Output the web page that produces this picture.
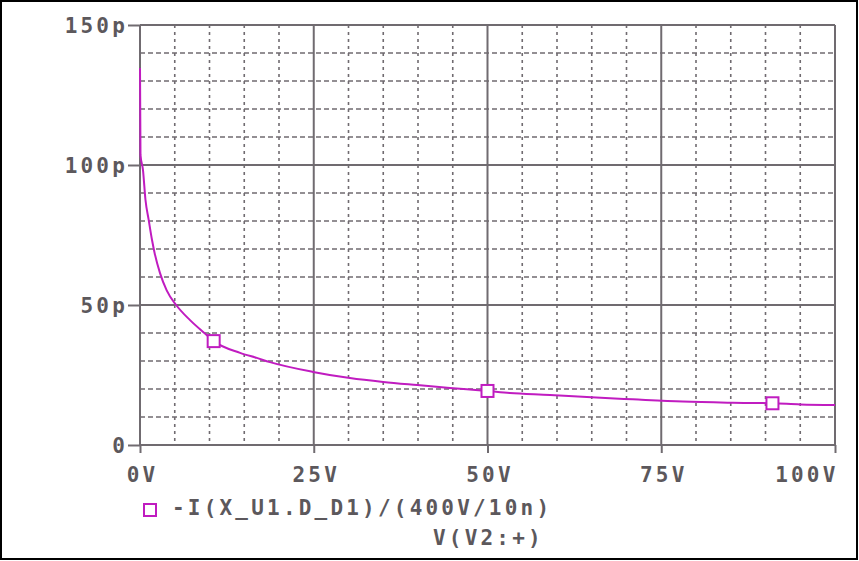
<!DOCTYPE html>
<html>
  <head>
    <title>Diode capacitance vs reverse voltage</title>
    <style>
      html,
      body {
        margin: 0;
        padding: 0;
        background: #fff;
      }

      #viz {
        width: 859px;
        height: 561px;
      }

      text {
        font-family: "DejaVu Sans Mono", monospace;
        font-weight: bold;
        font-size: 21px;
        letter-spacing: 3.2px;
        fill: #5c585c;
      }
    </style>
  </head>
  <body>
    <div id="viz"></div>
    <script src="https://d3js.org/d3.v7.min.js"></script>

    <script>
      // sweep voltage (V) and the plotted value (p)
      const volts = [
        0, 0.07, 0.43, 0.79, 1.25, 1.73, 2.1, 2.88, 3.84, 5.2, 7.2, 9.35, 10.6,
        14.4, 16.8, 18.7, 24.9, 30.2, 35, 39.9, 44.6, 50, 53.2, 59, 64.3, 70.9,
        78.1, 85.3, 91, 95, 100,
      ];
      const caps = [
        134.6, 103.6, 98.2, 87.5, 80.4, 73.2, 68.6, 61.4, 55.2, 50.0, 44.6, 39.8,
        37.1, 32.9, 31.1, 29.6, 26.1, 23.9, 22.5, 21.4, 20.4, 19.3, 18.6, 17.9,
        17.1, 16.3, 15.5, 15.1, 14.9, 14.5, 14.3,
      ];
      const markerVolts = [10.6, 50, 91];

      const xTicks = [0, 25, 50, 75, 100];
      const xTickLabels = ["0V", "25V", "50V", "75V", "100V"];
      const yTicks = [0, 50, 100, 150];
      const yTickLabels = ["0", "50p", "100p", "150p"];
      const xMinor = d3.range(5, 100, 5).filter((v) => v % 25 !== 0);
      const yMinor = d3.range(10, 150, 10).filter((v) => v % 50 !== 0);

      const traceName = "-I(X_U1.D_D1)/(400V/10n)";
      const xAxisName = "V(V2:+)";

      const traceColor = "#c01cc0";
      const gridColor = "#706b70";

      const points = volts.map((v, i) => ({ v: v, c: caps[i] }));

      const plotLeft = 140,
        plotRight = 835,
        plotTop = 25,
        plotBottom = 445;

      const xScale = d3
        .scaleLinear()
        .domain([0, 100])
        .range([plotLeft, plotRight]);
      const yScale = d3
        .scaleLinear()
        .domain([0, 150])
        .range([plotBottom, plotTop]);

      const svg = d3
        .select("#viz")
        .append("svg")
        .attr("width", 859)
        .attr("height", 561);

      svg
        .append("rect")
        .attr("x", 1)
        .attr("y", 1)
        .attr("width", 856)
        .attr("height", 558)
        .attr("fill", "#fff")
        .attr("stroke", "#000")
        .attr("stroke-width", 2);

      // minor grid
      const grid = svg.append("g");
      grid
        .selectAll("line.hminor")
        .data(yMinor)
        .enter()
        .append("line")
        .attr("x1", plotLeft)
        .attr("x2", plotRight)
        .attr("y1", (d) => yScale(d))
        .attr("y2", (d) => yScale(d))
        .attr("stroke", gridColor)
        .attr("stroke-width", 1.6)
        .attr("stroke-dasharray", "5,3");

      grid
        .selectAll("line.vminor")
        .data(xMinor)
        .enter()
        .append("line")
        .attr("x1", (d) => xScale(d))
        .attr("x2", (d) => xScale(d))
        .attr("y1", plotTop)
        .attr("y2", plotBottom)
        .attr("stroke", gridColor)
        .attr("stroke-width", 1.6)
        .attr("stroke-dasharray", "3,4");

      // major grid
      grid
        .selectAll("line.hmajor")
        .data(yTicks)
        .enter()
        .append("line")
        .attr("x1", plotLeft)
        .attr("x2", plotRight)
        .attr("y1", (d) => yScale(d))
        .attr("y2", (d) => yScale(d))
        .attr("stroke", gridColor)
        .attr("stroke-width", 2);

      grid
        .selectAll("line.vmajor")
        .data(xTicks)
        .enter()
        .append("line")
        .attr("x1", (d) => xScale(d))
        .attr("x2", (d) => xScale(d))
        .attr("y1", plotTop)
        .attr("y2", plotBottom)
        .attr("stroke", gridColor)
        .attr("stroke-width", 2);

      // axes
      const yAxis = svg
        .append("g")
        .attr("transform", `translate(${plotLeft},0)`)
        .call(
          d3
            .axisLeft(yScale)
            .tickValues(yTicks)
            .tickFormat((d, i) => yTickLabels[i])
            .tickSizeInner(12)
            .tickSizeOuter(0)
            .tickPadding(0)
        );
      yAxis.select(".domain").remove();
      yAxis.selectAll("line").attr("stroke", gridColor).attr("stroke-width", 2);
      yAxis
        .selectAll("text")
        .attr("font-family", null)
        .attr("font-size", null)
        .attr("fill", null)
        .attr("dy", "0.36em");

      const xAxis = svg
        .append("g")
        .attr("transform", `translate(0,${plotBottom})`)
        .call(
          d3
            .axisBottom(xScale)
            .tickValues(xTicks)
            .tickFormat((d, i) => xTickLabels[i])
            .tickSizeInner(8)
            .tickSizeOuter(0)
        );
      xAxis.select(".domain").remove();
      xAxis.selectAll("line").attr("stroke", gridColor).attr("stroke-width", 2);
      xAxis
        .selectAll("text")
        .attr("font-family", null)
        .attr("font-size", null)
        .attr("fill", null)
        .attr("y", 37)
        .attr("dy", 0)
        .attr("dx", 2)
        .filter((d) => d === 100)
        .attr("text-anchor", "end")
        .attr("dx", 3);

      // trace
      const line = d3
        .line()
        .x((d) => xScale(d.v))
        .y((d) => yScale(d.c))
        .curve(d3.curveMonotoneX);

      svg
        .append("path")
        .datum(points)
        .attr("d", line)
        .attr("fill", "none")
        .attr("stroke", traceColor)
        .attr("stroke-width", 2);

      svg
        .selectAll("rect.marker")
        .data(points.filter((d) => markerVolts.includes(d.v)))
        .enter()
        .append("rect")
        .attr("class", "marker")
        .attr("x", (d) => xScale(d.v) - 6)
        .attr("y", (d) => yScale(d.c) - 6)
        .attr("width", 12)
        .attr("height", 12)
        .attr("fill", "#fff")
        .attr("stroke", traceColor)
        .attr("stroke-width", 2);

      // legend
      svg
        .append("rect")
        .attr("x", 144)
        .attr("y", 504)
        .attr("width", 12)
        .attr("height", 12)
        .attr("fill", "none")
        .attr("stroke", traceColor)
        .attr("stroke-width", 2);

      svg.append("text").attr("x", 172).attr("y", 515).text(traceName);
      svg.append("text").attr("x", 433).attr("y", 545).text(xAxisName);
    </script>
  </body>
</html>
